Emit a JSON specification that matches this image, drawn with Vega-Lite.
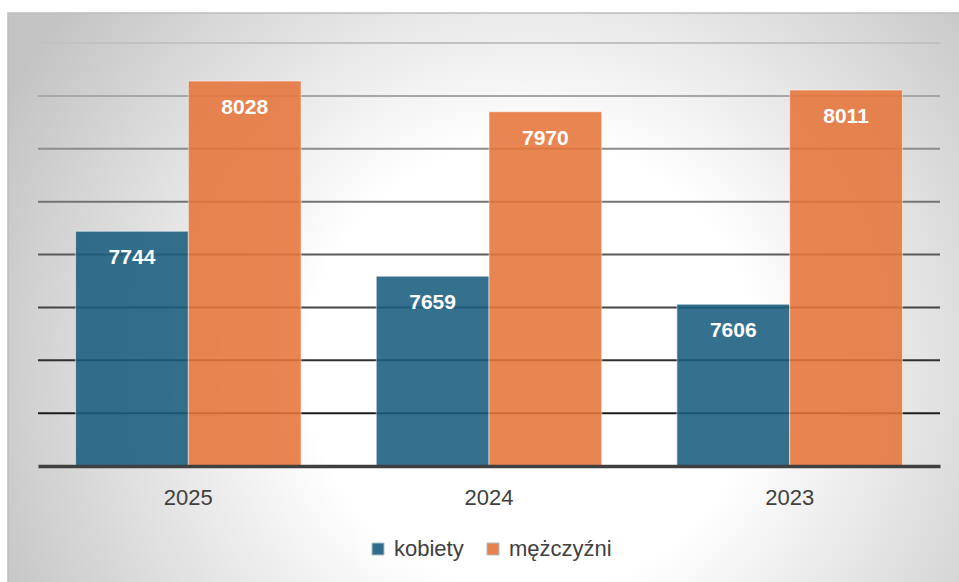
{
  "$schema": "https://vega.github.io/schema/vega-lite/v6.json",
  "width": 902,
  "height": 423,
  "autosize": {"type": "none"},
  "padding": {"left": 38, "top": 43, "right": 19, "bottom": 116},
  "background": "#ffffff",
  "config": {"view": {"stroke": null}, "font": "Liberation Sans"},
  "datasets": {
    "bars": [
      {"rok": "2025", "plec": "kobiety", "liczba": 7744},
      {"rok": "2025", "plec": "mężczyźni", "liczba": 8028},
      {"rok": "2024", "plec": "kobiety", "liczba": 7659},
      {"rok": "2024", "plec": "mężczyźni", "liczba": 7970},
      {"rok": "2023", "plec": "kobiety", "liczba": 7606},
      {"rok": "2023", "plec": "mężczyźni", "liczba": 8011}
    ],
    "grid": [
      {"v": 7400}, {"v": 7500}, {"v": 7600}, {"v": 7700},
      {"v": 7800}, {"v": 7900}, {"v": 8000}, {"v": 8100}
    ]
  },
  "layer": [
    {
      "data": {"values": [{}]},
      "mark": {
        "type": "rect",
        "stroke": "#bdbdbd",
        "strokeWidth": 1.5,
        "fill": {
          "gradient": "radial",
          "x1": 0.55, "y1": 0.37, "r1": 0,
          "x2": 0.55, "y2": 0.37, "r2": 0.62,
          "stops": [
            {"offset": 0, "color": "#ffffff"},
            {"offset": 0.38, "color": "#ffffff"},
            {"offset": 1, "color": "#c3c3c3"}
          ]
        }
      },
      "encoding": {
        "x": {"value": -30},
        "x2": {"value": 924},
        "y": {"value": -30},
        "y2": {"value": 924}
      }
    },
    {
      "data": {"name": "grid"},
      "mark": {"type": "rule", "strokeWidth": 2},
      "encoding": {
        "y": {"field": "v", "type": "quantitative", "axis": null, "scale": {"domain": [7300, 8100], "nice": false, "zero": false}},
        "stroke": {
          "field": "v", "type": "quantitative", "legend": null,
          "scale": {"domain": [7400, 7700, 8100], "range": ["#1c1c1c", "#5a5a5a", "#c2c2c2"]}
        }
      }
    },
    {
      "data": {"name": "bars"},
      "mark": {"type": "bar", "clip": true, "opacity": 0.88, "stroke": "#ffffff", "strokeOpacity": 0.55, "strokeWidth": 1},
      "encoding": {
        "x": {
          "field": "rok", "type": "nominal", "sort": ["2025", "2024", "2023"],
          "scale": {"paddingInner": 0.25, "paddingOuter": 0.125},
          "axis": {
            "title": null, "labelAngle": 0, "ticks": false, "zindex": 2,
            "labelFontSize": 22, "labelColor": "#404040", "labelPadding": 21,
            "domainColor": "#404040", "domainWidth": 3.5, "grid": false
          }
        },
        "xOffset": {"field": "plec", "type": "nominal", "sort": ["kobiety", "mężczyźni"]},
        "y": {"field": "liczba", "type": "quantitative", "axis": null},
        "color": {
          "field": "plec", "type": "nominal",
          "scale": {"domain": ["kobiety", "mężczyźni"], "range": ["#1a5e80", "#e6753a"]},
          "legend": {
            "title": null, "orient": "none", "direction": "horizontal",
            "legendX": 321, "legendY": 487,
            "symbolType": "square", "symbolSize": 144, "symbolStrokeWidth": 1, "symbolStrokeColor": "#9fb9c8", "symbolOpacity": 0.9,
            "labelFontSize": 22, "labelColor": "#404040", "labelOffset": 5,
            "columnPadding": 18, "padding": 8,
            "fillColor": "rgba(255,255,255,0.3)"
          }
        }
      }
    },
    {
      "data": {"name": "bars"},
      "mark": {"type": "text", "fontSize": 21, "fontWeight": "bold", "color": "#ffffff", "baseline": "middle", "dy": 27},
      "encoding": {
        "x": {"field": "rok", "type": "nominal", "sort": ["2025", "2024", "2023"]},
        "xOffset": {"field": "plec", "type": "nominal", "sort": ["kobiety", "mężczyźni"]},
        "y": {"field": "liczba", "type": "quantitative"},
        "text": {"field": "liczba", "type": "quantitative", "format": "d"}
      }
    }
  ]
}
